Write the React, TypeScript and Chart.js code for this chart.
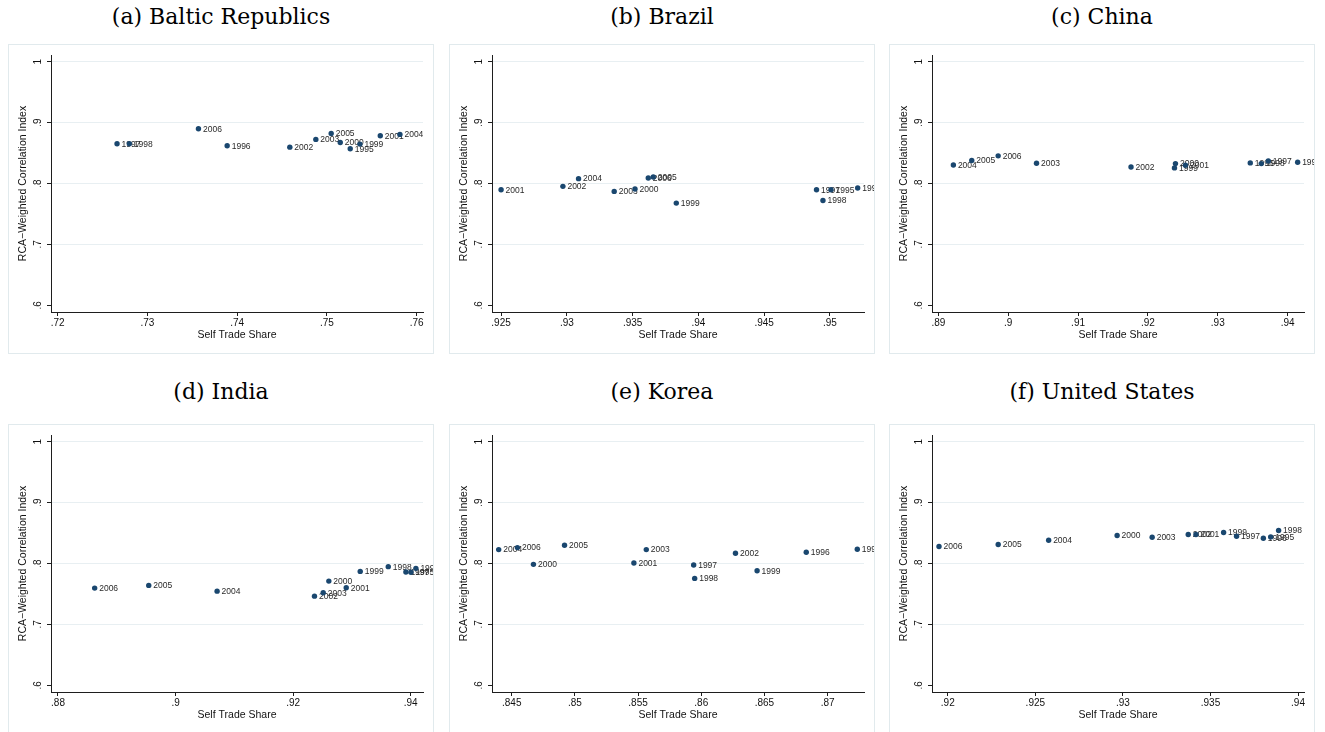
import React, { useEffect, useRef } from 'react';
import { Chart, registerables } from 'chart.js';

Chart.register(...registerables);

// ---------- data ----------
const YEARS = ['1995', '1996', '1997', '1998', '1999', '2000', '2001', '2002', '2003', '2004', '2005', '2006'];

const Y_TICKS = [0.6, 0.7, 0.8, 0.9, 1.0];
const Y_MIN = 0.589;
const Y_MAX = 1.011;

const BALTIC_SELF = [0.7526, 0.73889, 0.72662, 0.72799, 0.75368, 0.75149, 0.75595, 0.74587, 0.74877, 0.75814, 0.75048, 0.73569];
const BALTIC_RCA = [0.857, 0.8619, 0.8652, 0.8652, 0.8647, 0.8674, 0.8784, 0.8597, 0.8724, 0.8806, 0.8823, 0.89];
const BALTIC_XTICKS = [0.72, 0.73, 0.74, 0.75, 0.76];
const BALTIC_XRANGE = [0.71926, 0.76071];

const BRAZIL_SELF = [0.95008, 0.95211, 0.94898, 0.94947, 0.93832, 0.93518, 0.925, 0.9297, 0.9336, 0.93089, 0.93657, 0.93619];
const BRAZIL_RCA = [0.7898, 0.7926, 0.7898, 0.7722, 0.7678, 0.791, 0.7898, 0.7953, 0.787, 0.808, 0.8107, 0.8091];
const BRAZIL_XTICKS = [0.925, 0.93, 0.935, 0.94, 0.945, 0.95];
const BRAZIL_XRANGE = [0.92431, 0.95259];

const CHINA_SELF = [0.94143, 0.93465, 0.93723, 0.93622, 0.9238, 0.92394, 0.92537, 0.91758, 0.90405, 0.89215, 0.89478, 0.89856];
const CHINA_RCA = [0.835, 0.8338, 0.8371, 0.8327, 0.8256, 0.8327, 0.83, 0.8272, 0.8333, 0.8305, 0.8377, 0.8454];
const CHINA_XTICKS = [0.89, 0.9, 0.91, 0.92, 0.93, 0.94];
const CHINA_XRANGE = [0.88909, 0.94234];

const INDIA_SELF = [0.94004, 0.94089, 0.93919, 0.93619, 0.93142, 0.92608, 0.92904, 0.92364, 0.92512, 0.90707, 0.89544, 0.88624];
const INDIA_RCA = [0.7856, 0.792, 0.786, 0.7948, 0.787, 0.7711, 0.7601, 0.7464, 0.7519, 0.7546, 0.764, 0.7596];
const INDIA_XTICKS = [0.88, 0.9, 0.92, 0.94];
const INDIA_XRANGE = [0.87881, 0.9421];

const KOREA_SELF = [0.87235, 0.86831, 0.8594, 0.85948, 0.86442, 0.84672, 0.85467, 0.86271, 0.85565, 0.84397, 0.84918, 0.84545];
const KOREA_RCA = [0.8234, 0.8184, 0.7975, 0.7755, 0.7882, 0.7986, 0.8008, 0.8168, 0.8228, 0.8228, 0.83, 0.8261];
const KOREA_XTICKS = [0.845, 0.85, 0.855, 0.86, 0.865, 0.87];
const KOREA_XRANGE = [0.84344, 0.87288];

const US_SELF = [0.93844, 0.93802, 0.93649, 0.93889, 0.93575, 0.92967, 0.93417, 0.93373, 0.93167, 0.92576, 0.92288, 0.9195];
const US_RCA = [0.8437, 0.8415, 0.8448, 0.8542, 0.8509, 0.8459, 0.8476, 0.8476, 0.8432, 0.8382, 0.8311, 0.8278];
const US_XTICKS = [0.92, 0.925, 0.93, 0.935, 0.94];
const US_XRANGE = [0.9191, 0.94034];

const TITLES = ['(a) Baltic Republics', '(b) Brazil', '(c) China', '(d) India', '(e) Korea', '(f) United States'];
const X_TITLE = 'Self Trade Share';
const Y_TITLE = 'RCA\u2212Weighted Correlation Index';

// ---------- styles / layout ----------
const SANS = '"Liberation Sans", Arial, Helvetica, sans-serif';
const SERIF = '"DejaVu Serif", "Liberation Serif", serif';
const MARKER = '#1a476f';
const AXIS = '#1e1e1e';
const GRID = '#e8eff2';
const FRAME = '#e1eaed';
const TEXT = '#111111';
const LABEL = '#2a2a2a';

const COL_LEFT = [8, 449, 889];
const ROW_TOP = [44, 424];
const TITLE_CENTER = [16.5, 392];
const BOX_W = 426;
const BOX_H = 310;

function fmt(v: number): string {
  const s = String(parseFloat(v.toFixed(4)));
  return s.replace(/^0\./, '.');
}

interface PanelProps {
  title: string;
  xs: number[];
  ys: number[];
  xTicks: number[];
  xRange: number[];
  left: number;
  top: number;
  titleCenter: number;
}

function Panel({ title, xs, ys, xTicks, xRange, left, top, titleCenter }: PanelProps) {
  const ref = useRef<HTMLCanvasElement | null>(null);

  useEffect(() => {
    const canvas = ref.current;
    if (!canvas) return;

    const textPlugin = {
      id: 'stataText',
      beforeDatasetsDraw(chart: any) {
        const ctx = chart.ctx;
        const meta = chart.getDatasetMeta(0);
        ctx.save();
        ctx.font = `8.5px ${SANS}`;
        ctx.fillStyle = LABEL;
        ctx.textAlign = 'left';
        ctx.textBaseline = 'middle';
        meta.data.forEach((el: any, i: number) => {
          ctx.fillText(YEARS[i], el.x + 4.5, el.y + 0.5);
        });
        ctx.restore();
      },
      afterDraw(chart: any) {
        const ctx = chart.ctx;
        const area = chart.chartArea;
        const xs_ = chart.scales.x;
        const ys_ = chart.scales.y;
        ctx.save();
        ctx.fillStyle = TEXT;
        // x tick labels
        ctx.font = `10px ${SANS}`;
        ctx.textAlign = 'center';
        ctx.textBaseline = 'alphabetic';
        xTicks.forEach((v) => {
          ctx.fillText(fmt(v), xs_.getPixelForValue(v), area.bottom + 14);
        });
        // x title
        ctx.font = `10.5px ${SANS}`;
        ctx.fillText(X_TITLE, (area.left + area.right) / 2, area.bottom + 26);
        // y tick labels (rotated)
        ctx.font = `10px ${SANS}`;
        Y_TICKS.forEach((v) => {
          const py = ys_.getPixelForValue(v);
          ctx.save();
          ctx.translate(area.left - 10, py);
          ctx.rotate(-Math.PI / 2);
          ctx.textAlign = 'center';
          ctx.textBaseline = 'alphabetic';
          ctx.fillText(fmt(v), 0, 0);
          ctx.restore();
        });
        // y title
        ctx.font = `10.5px ${SANS}`;
        ctx.save();
        ctx.translate(area.left - 25, (area.top + area.bottom) / 2);
        ctx.rotate(-Math.PI / 2);
        ctx.textAlign = 'center';
        ctx.textBaseline = 'alphabetic';
        ctx.fillText(Y_TITLE, 0, 0);
        ctx.restore();
        ctx.restore();
      },
    };

    const chart = new Chart(canvas, {
      type: 'scatter',
      data: {
        datasets: [
          {
            data: xs.map((x, i) => ({ x, y: ys[i] })),
            pointRadius: 2.7,
            pointHoverRadius: 2.7,
            backgroundColor: MARKER,
            borderColor: MARKER,
            borderWidth: 0,
            clip: false as any,
          },
        ],
      },
      options: {
        animation: false,
        responsive: false,
        events: [],
        layout: { padding: { left: 0, top: 10, right: 10, bottom: 0 } },
        plugins: { legend: { display: false }, tooltip: { enabled: false } },
        scales: {
          x: {
            type: 'linear',
            min: xRange[0],
            max: xRange[1],
            afterBuildTicks: (s: any) => {
              s.ticks = xTicks.map((v) => ({ value: v }));
            },
            afterFit: (s: any) => {
              s.height = 41;
            },
            ticks: { display: false },
            grid: {
              drawOnChartArea: false,
              drawTicks: true,
              tickLength: 4,
              tickColor: AXIS,
              tickWidth: 1,
            },
            border: { display: true, color: AXIS, width: 1 },
          },
          y: {
            type: 'linear',
            min: Y_MIN,
            max: Y_MAX,
            afterBuildTicks: (s: any) => {
              s.ticks = Y_TICKS.map((v) => ({ value: v }));
            },
            afterFit: (s: any) => {
              s.width = 42;
            },
            ticks: { display: false },
            grid: {
              color: (c: any) => (c.tick && Math.abs(c.tick.value - Y_TICKS[0]) < 1e-9 ? 'rgba(0,0,0,0)' : GRID),
              lineWidth: 1,
              drawTicks: true,
              tickLength: 4,
              tickColor: AXIS,
              tickWidth: 1,
            },
            border: { display: true, color: AXIS, width: 1 },
          },
        },
      },
      plugins: [textPlugin],
    } as any);

    return () => chart.destroy();
  }, [xs, ys, xTicks, xRange]);

  return (
    <>
      <div
        style={{
          position: 'absolute',
          left,
          width: BOX_W,
          top: titleCenter - 14,
          height: 28,
          lineHeight: '28px',
          textAlign: 'center',
          fontFamily: SERIF,
          fontSize: 22,
          color: '#000',
          whiteSpace: 'nowrap',
        }}
      >
        {title}
      </div>
      <div
        style={{
          position: 'absolute',
          left,
          top,
          width: BOX_W,
          height: BOX_H,
          boxSizing: 'border-box',
          border: `1px solid ${FRAME}`,
          background: '#fff',
        }}
      >
        <canvas ref={ref} width={BOX_W - 2} height={BOX_H - 2} style={{ display: 'block' }} />
      </div>
    </>
  );
}

const PANELS = [
  { xs: BALTIC_SELF, ys: BALTIC_RCA, xTicks: BALTIC_XTICKS, xRange: BALTIC_XRANGE },
  { xs: BRAZIL_SELF, ys: BRAZIL_RCA, xTicks: BRAZIL_XTICKS, xRange: BRAZIL_XRANGE },
  { xs: CHINA_SELF, ys: CHINA_RCA, xTicks: CHINA_XTICKS, xRange: CHINA_XRANGE },
  { xs: INDIA_SELF, ys: INDIA_RCA, xTicks: INDIA_XTICKS, xRange: INDIA_XRANGE },
  { xs: KOREA_SELF, ys: KOREA_RCA, xTicks: KOREA_XTICKS, xRange: KOREA_XRANGE },
  { xs: US_SELF, ys: US_RCA, xTicks: US_XTICKS, xRange: US_XRANGE },
];

export default function App() {
  return (
    <div style={{ position: 'absolute', left: 0, top: 0, width: 1325, height: 732, overflow: 'hidden', background: '#fff' }}>
      {PANELS.map((p, i) => (
        <Panel
          key={i}
          title={TITLES[i]}
          xs={p.xs}
          ys={p.ys}
          xTicks={p.xTicks}
          xRange={p.xRange}
          left={COL_LEFT[i % 3]}
          top={ROW_TOP[Math.floor(i / 3)]}
          titleCenter={TITLE_CENTER[Math.floor(i / 3)]}
        />
      ))}
    </div>
  );
}
